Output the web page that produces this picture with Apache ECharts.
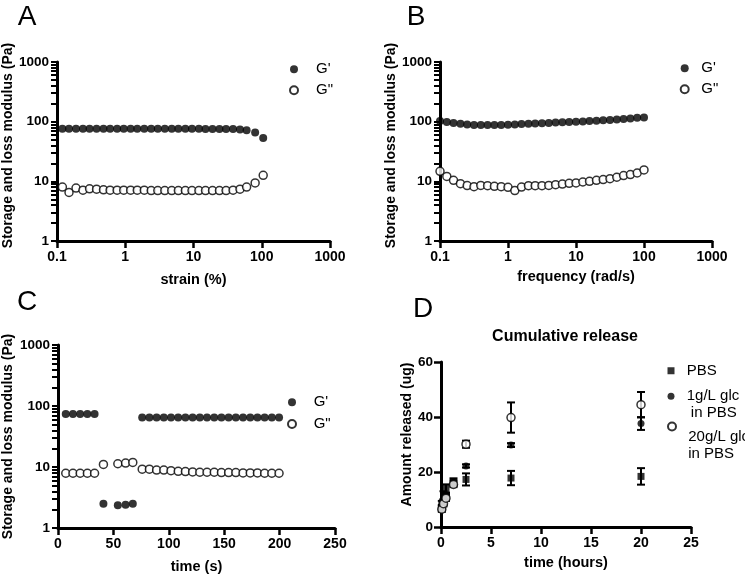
<!DOCTYPE html>
<html>
<head>
<meta charset="utf-8">
<script src="https://cdn.jsdelivr.net/npm/echarts@6/dist/echarts.min.js"></script>
<style>
html, body { margin: 0; padding: 0; background: #fff; }
#chart { width: 745px; height: 576px; }
</style>
</head>
<body>
<div id="chart"></div>
<script>
// A: strain sweep
const strainPct = [0.12, 0.15, 0.19, 0.24, 0.3, 0.38, 0.48, 0.6, 0.76, 0.95, 1.2, 1.5, 1.9, 2.4, 3, 3.8, 4.8, 6, 7.6, 9.5, 12, 15, 19, 24, 30, 38, 48, 60, 80, 105];
const strainGp = [76, 76, 76, 76, 76, 76, 76, 76, 76, 76, 76, 76, 76, 76, 76, 76, 76, 76, 76, 76, 76, 75, 75, 75, 75, 75, 74, 72, 66, 53];
const strainGpp = [8.0, 6.5, 7.7, 7.1, 7.5, 7.4, 7.2, 7.1, 7.1, 7.1, 7.1, 7.1, 7.1, 7.0, 7.0, 7.0, 7.0, 7.0, 7.0, 7.0, 7.0, 7.0, 7.0, 7.0, 7.0, 7.1, 7.4, 8.0, 9.4, 12.6];

// B: frequency sweep
const freqRad = [0.1, 0.126, 0.158, 0.2, 0.251, 0.316, 0.398, 0.501, 0.631, 0.794, 1, 1.26, 1.58, 2, 2.51, 3.16, 3.98, 5.01, 6.31, 7.94, 10, 12.6, 15.8, 20, 25.1, 31.6, 39.8, 50.1, 63.1, 79.4, 100];
const freqGp = [103, 99, 95, 92, 90, 88, 88, 88, 88, 88, 89, 90, 91, 92, 93, 94, 95, 97, 98, 99, 100, 101, 103, 104, 106, 107, 109, 111, 113, 116, 118];
const freqGpp = [14.7, 12.1, 10.4, 9.15, 8.5, 8.15, 8.55, 8.45, 8.25, 8.15, 7.95, 7.0, 8.0, 8.45, 8.45, 8.45, 8.55, 8.8, 9.0, 9.25, 9.4, 9.75, 10.0, 10.4, 10.7, 11.1, 11.7, 12.5, 13.0, 13.8, 15.5];

// C: time sweep
const timeSec = [7, 13.5, 20, 26.5, 33, 41, 54, 61, 67.5, 76, 82.5, 89, 95.5, 102, 108.5, 115, 121.5, 128, 134.5, 141, 147.5, 154, 160.5, 167, 173.5, 180, 186.5, 193, 199.5];
const timeGp = [74, 74, 74, 74, 74, 2.5, 2.35, 2.4, 2.5, 65, 65, 65, 65, 65, 65, 65, 65, 65, 65, 65, 65, 65, 65, 65, 65, 65, 65, 65, 65];
const timeGpp = [7.9, 7.9, 7.9, 7.9, 7.9, 11.0, 11.3, 11.6, 11.9, 9.2, 9.2, 8.9, 8.9, 8.7, 8.5, 8.4, 8.3, 8.2, 8.2, 8.2, 8.1, 8.1, 8.1, 8.0, 8.0, 8.0, 7.9, 7.9, 7.9];

// D: cumulative release
const releaseHours = [0.083, 0.25, 0.5, 1.25, 2.5, 7, 20];
const pbsMean = [8, 11.5, 14, 16.5, 17.3, 17.8, 18.4];
const pbsErr = [1.5, 1.5, 1.5, 1.2, 2.2, 2.6, 3.0];
const glc1Mean = [7, 9, 11, 16, 22.2, 29.8, 37.6];
const glc1Err = [1, 1, 1, 1, 0.6, 0.7, 2.3];
const glc20Mean = [6.5, 8.5, 10.5, 15.5, 30.1, 39.8, 44.5];
const glc20Err = [1, 1, 1, 1, 1.3, 5.5, 4.6];

// tick marks of the 1..1000 log axes (decades and the 2..9 steps between them)
const logTicks = [1, 2, 3, 4, 5, 6, 7, 8, 9, 10, 20, 30, 40, 50, 60, 70, 80, 90, 100, 200, 300, 400, 500, 600, 700, 800, 900, 1000];
const logLabels = [1, 10, 100, 1000];

const FONT = 'Liberation Sans';
const black = '#000';

function pairs(xs, ys) { return xs.map((x, i) => [x, ys[i]]); }
function triples(xs, ys, es) { return xs.map((x, i) => [x, ys[i], es[i]]); }
function plain(v) { return String(v); }

function tickStyle(len, w) {
    return { show: true, inside: false, length: len, lineStyle: { color: black, width: w, type: 'solid', opacity: 1 } };
}

function xAxisOf(grid, type, min, max, interval, name, gap) {
    const ax = {
        gridIndex: grid, type: type, min: min, max: max,
        name: name, nameLocation: 'middle', nameGap: gap,
        nameTextStyle: { color: black, fontFamily: FONT, fontWeight: 'bold', fontSize: 14.5 },
        axisLine: { show: true, onZero: false, lineStyle: { color: black, width: 3 } },
        axisTick: tickStyle(7, 2.5),
        axisLabel: { color: black, fontFamily: FONT, fontWeight: 'bold', fontSize: 14, margin: 9, formatter: plain },
        splitLine: { show: false }
    };
    if (interval) ax.interval = interval;
    return ax;
}

function yAxisOf(grid, type, min, max, interval, name, gap, shift) {
    const ax = {
        gridIndex: grid, type: type, min: min, max: max, position: 'left',
        name: name, nameLocation: 'middle', nameGap: gap,
        nameTextStyle: { color: black, fontFamily: FONT, fontWeight: 'bold', fontSize: 14, padding: [0, 0, 0, shift] },
        axisLine: { show: true, onZero: false, lineStyle: { color: black, width: 3 } },
        axisTick: tickStyle(7, 2.5),
        axisLabel: { color: black, fontFamily: FONT, fontWeight: 'bold', fontSize: 13.5, margin: 8, formatter: plain },
        splitLine: { show: false }
    };
    if (interval) ax.interval = interval;
    if (type === 'log') {
        ax.axisTick = Object.assign(tickStyle(6, 2), { customValues: logTicks });
        ax.axisLabel.customValues = logLabels;
    }
    return ax;
}

function dots(name, xi, yi, data, open, symbol, size) {
    return {
        type: 'scatter', name: name, xAxisIndex: xi, yAxisIndex: yi, data: data,
        symbol: symbol || 'circle', symbolSize: size || 8, z: 3,
        itemStyle: open ? { color: '#fff', borderColor: black, borderWidth: 1.5 } : { color: black }
    };
}

function errorBars(name, xi, yi, data) {
    return {
        type: 'custom', name: name, xAxisIndex: xi, yAxisIndex: yi, data: data, z: 2,
        encode: { x: 0, y: 1 },
        renderItem: function (params, api) {
            const x = api.value(0), y = api.value(1), e = api.value(2);
            const hi = api.coord([x, y + e]);
            const lo = api.coord([x, y - e]);
            const st = { stroke: black, lineWidth: 2 };
            return {
                type: 'group', children: [
                    { type: 'line', shape: { x1: hi[0], y1: hi[1], x2: lo[0], y2: lo[1] }, style: st },
                    { type: 'line', shape: { x1: hi[0] - 4, y1: hi[1], x2: hi[0] + 4, y2: hi[1] }, style: st },
                    { type: 'line', shape: { x1: lo[0] - 4, y1: lo[1], x2: lo[0] + 4, y2: lo[1] }, style: st }
                ]
            };
        }
    };
}

function letter(t, x, y) {
    return { type: 'text', x: x, y: y, style: { text: t, font: '28px "Liberation Sans"', fill: black, align: 'center', verticalAlign: 'middle' } };
}

const legendText = { fontFamily: FONT, fontSize: 15, color: black };

// multi-line legend label whose first line sits below a spacer line
function stacked(lead) {
    return {
        formatter: name => '{s| }\n' + name.split('\n').map(l => '{t|' + l + '}').join('\n'),
        textStyle: Object.assign({
            padding: [0, 0, 0, 7.2],
            rich: {
                s: { fontSize: 15, lineHeight: lead },
                t: { fontFamily: FONT, fontSize: 15, color: black, lineHeight: 16.5 }
            }
        }, legendText)
    };
}

let chart = echarts.init(document.getElementById('chart'));
chart.setOption({
    animation: false,
    backgroundColor: '#fff',
    grid: [
        { left: 57, top: 62, width: 273, height: 179 },
        { left: 440, top: 62, width: 272, height: 179 },
        { left: 58, top: 345, width: 277, height: 183 },
        { left: 441, top: 362, width: 250, height: 165 }
    ],
    xAxis: [
        xAxisOf(0, 'log', 0.1, 1000, null, 'strain (%)', 31),
        xAxisOf(1, 'log', 0.1, 1000, null, 'frequency (rad/s)', 28),
        xAxisOf(2, 'value', 0, 250, 50, 'time (s)', 31),
        xAxisOf(3, 'value', 0, 25, 5, 'time (hours)', 28)
    ],
    yAxis: [
        yAxisOf(0, 'log', 1, 1000, null, 'Storage and loss modulus (Pa)', 42, 12),
        yAxisOf(1, 'log', 1, 1000, null, 'Storage and loss modulus (Pa)', 42, 12),
        yAxisOf(2, 'log', 1, 1000, null, 'Storage and loss modulus (Pa)', 43, 0),
        yAxisOf(3, 'value', 0, 60, 20, 'Amount released (ug)', 25, 20)
    ],
    legend: [
        { left: 289, top: 58.7, orient: 'vertical', padding: 0, itemGap: 0, itemWidth: 8, itemHeight: 8,
          data: ["G'", 'G"'], textStyle: Object.assign({ lineHeight: 21, padding: [0, 0, 0, 13] }, legendText) },
        { left: 679.7, top: 57.8, orient: 'vertical', padding: 0, itemGap: 0, itemWidth: 8, itemHeight: 8,
          data: ["G'", 'G"'], textStyle: Object.assign({ lineHeight: 21, padding: [0, 0, 0, 7.6] }, legendText) },
        { left: 287, top: 391.5, orient: 'vertical', padding: 0, itemGap: 0, itemWidth: 8, itemHeight: 8,
          data: ["G'", 'G"'], textStyle: Object.assign({ lineHeight: 21.7, padding: [0, 0, 0, 12.7] }, legendText) },
        { left: 667.5, top: 362.5, padding: 0, itemWidth: 7, itemHeight: 7,
          data: ['PBS'], textStyle: Object.assign({ lineHeight: 16.5, padding: [0, 0, 0, 7.2] }, legendText) },
        Object.assign({ left: 667.5, top: 372.25, padding: 0, itemWidth: 7, itemHeight: 7,
          data: ['1g/L glc\n in PBS'] }, stacked(16.5)),
        Object.assign({ left: 667, top: 402.5, padding: 0, itemWidth: 8, itemHeight: 8,
          data: ['20g/L glc\nin PBS'] }, stacked(38))
    ],
    graphic: [
        letter('A', 27, 17),
        letter('B', 416, 17),
        letter('C', 27, 302),
        letter('D', 423, 309),
        { type: 'text', x: 565, y: 337, style: { text: 'Cumulative release', font: 'bold 16px "Liberation Sans"', fill: black, align: 'center', verticalAlign: 'middle' } }
    ],
    series: [
        dots("G'", 0, 0, pairs(strainPct, strainGp), false),
        dots('G"', 0, 0, pairs(strainPct, strainGpp), true),
        dots("G'", 1, 1, pairs(freqRad, freqGp), false),
        dots('G"', 1, 1, pairs(freqRad, freqGpp), true),
        dots("G'", 2, 2, pairs(timeSec, timeGp), false),
        dots('G"', 2, 2, pairs(timeSec, timeGpp), true),
        errorBars('PBS err', 3, 3, triples(releaseHours, pbsMean, pbsErr)),
        errorBars('1g err', 3, 3, triples(releaseHours, glc1Mean, glc1Err)),
        errorBars('20g err', 3, 3, triples(releaseHours, glc20Mean, glc20Err)),
        dots('PBS', 3, 3, pairs(releaseHours, pbsMean), false, 'rect', 7),
        dots('1g/L glc\n in PBS', 3, 3, pairs(releaseHours, glc1Mean), false, 'circle', 7),
        dots('20g/L glc\nin PBS', 3, 3, pairs(releaseHours, glc20Mean), true, 'circle', 8)
    ]
});
</script>
</body>
</html>
